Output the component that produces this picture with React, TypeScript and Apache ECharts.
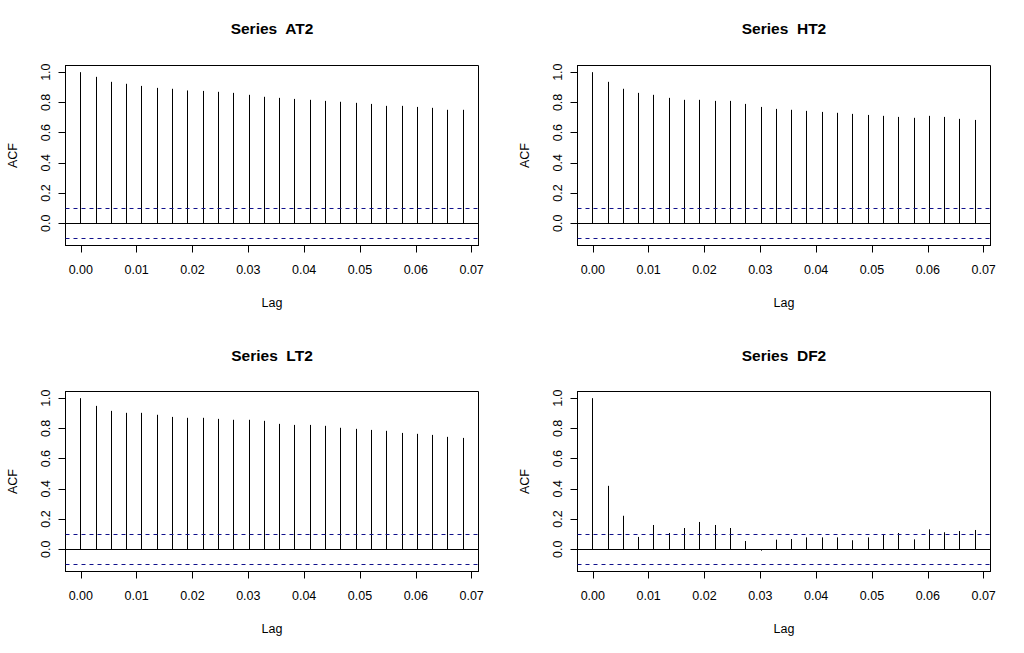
import React, { useEffect, useRef } from "react";
import * as echarts from "echarts";

const lags = [
  0, 0.00274, 0.00548, 0.00822, 0.01096, 0.0137, 0.01644, 0.01918, 0.02192,
  0.02466, 0.0274, 0.03014, 0.03288, 0.03562, 0.03836, 0.0411, 0.04384,
  0.04658, 0.04932, 0.05205, 0.05479, 0.05753, 0.06027, 0.06301, 0.06575,
  0.06849,
];

const acfAT2 = [
  1.0, 0.969, 0.936, 0.923, 0.909, 0.896, 0.89, 0.879, 0.876, 0.87, 0.863,
  0.85, 0.837, 0.83, 0.823, 0.817, 0.81, 0.804, 0.797, 0.79, 0.777, 0.777,
  0.77, 0.764, 0.751, 0.751,
];
const acfHT2 = [
  1.0, 0.936, 0.89, 0.863, 0.85, 0.83, 0.817, 0.817, 0.81, 0.81, 0.79, 0.77,
  0.757, 0.751, 0.744, 0.737, 0.731, 0.724, 0.717, 0.711, 0.704, 0.698, 0.711,
  0.704, 0.691, 0.684,
];
const acfLT2 = [
  1.0, 0.949, 0.916, 0.903, 0.903, 0.89, 0.876, 0.87, 0.87, 0.863, 0.857,
  0.857, 0.85, 0.83, 0.823, 0.823, 0.817, 0.804, 0.797, 0.79, 0.784, 0.77,
  0.764, 0.757, 0.744, 0.737,
];
const acfDF2 = [
  1.0, 0.42, 0.222, 0.082, 0.161, 0.108, 0.141, 0.181, 0.161, 0.141, 0.055,
  -0.009, 0.064, 0.068, 0.079, 0.079, 0.079, 0.06, 0.079, 0.099, 0.108, 0.066,
  0.132, 0.113, 0.121, 0.128,
];

const seriesNames = ["Series  AT2", "Series  HT2", "Series  LT2", "Series  DF2"];
const seriesValues = [acfAT2, acfHT2, acfLT2, acfDF2];

const xTicks = [0, 0.01, 0.02, 0.03, 0.04, 0.05, 0.06, 0.07];
const yTicks = [0, 0.2, 0.4, 0.6, 0.8, 1.0];
const ciLimit = 0.1026;
const xRange = [-0.00274, 0.07123];
const yRange = [-0.1467, 1.0441];

const FONT = '"Liberation Sans", Arial, sans-serif';
const CI_COLOR = "#12128c";

// plot boxes: left, top, width, height
const boxes = [
  [65.5, 65.5, 413, 180],
  [577.5, 65.5, 413, 180],
  [65.5, 391.5, 413, 180],
  [577.5, 391.5, 413, 180],
];

export default function App() {
  const ref = useRef<HTMLDivElement>(null);

  useEffect(() => {
    if (!ref.current) return;
    const chart = echarts.init(ref.current, null, { renderer: "svg" });

    const grid: any[] = [];
    const xAxis: any[] = [];
    const yAxis: any[] = [];
    const series: any[] = [];
    const graphic: any[] = [];

    boxes.forEach((b, i) => {
      grid.push({
        left: b[0],
        top: b[1],
        width: b[2],
        height: b[3],
        show: true,
        borderColor: "#000",
        borderWidth: 1,
        backgroundColor: "transparent",
        containLabel: false,
      });
      xAxis.push({
        type: "value",
        gridIndex: i,
        min: xRange[0],
        max: xRange[1],
        name: "Lag",
        nameLocation: "middle",
        nameGap: 51,
        nameTextStyle: { fontFamily: FONT, fontSize: 12.5, color: "#000" },
        axisLine: { show: true, onZero: false, lineStyle: { color: "#000", width: 1 } },
        axisTick: {
          show: true,
          length: 7,
          customValues: xTicks,
          lineStyle: { color: "#000", width: 1 },
        },
        axisLabel: {
          show: true,
          customValues: xTicks,
          margin: 18,
          fontFamily: FONT,
          fontSize: 12.5,
          color: "#000",
          formatter: (v: number) => v.toFixed(2),
        },
        splitLine: { show: false },
      });
      yAxis.push({
        type: "value",
        gridIndex: i,
        min: yRange[0],
        max: yRange[1],
        name: "ACF",
        nameLocation: "middle",
        nameGap: 46,
        nameRotate: 90,
        nameTextStyle: { fontFamily: FONT, fontSize: 12.5, color: "#000" },
        axisLine: { show: true, onZero: false, lineStyle: { color: "#000", width: 1 } },
        axisTick: {
          show: true,
          length: 7,
          customValues: yTicks,
          lineStyle: { color: "#000", width: 1 },
        },
        axisLabel: {
          show: true,
          customValues: yTicks,
          rotate: 90,
          margin: 13,
          fontFamily: FONT,
          fontSize: 12.5,
          color: "#000",
          formatter: (v: number) => v.toFixed(1),
        },
        splitLine: { show: false },
      });
      series.push({
        type: "custom",
        xAxisIndex: i,
        yAxisIndex: i,
        data: lags.map((l, k) => [l, seriesValues[i][k]]),
        renderItem: (params: any, api: any) => {
          const x = api.value(0);
          const y = api.value(1);
          const p0 = api.coord([x, 0]);
          const p1 = api.coord([x, y]);
          const px = Math.floor(p0[0]) + 0.5;
          return {
            type: "line",
            shape: { x1: px, y1: p0[1], x2: px, y2: p1[1] },
            style: { stroke: "#000", lineWidth: 1 },
          };
        },
        silent: true,
      });
      series.push({
        type: "line",
        xAxisIndex: i,
        yAxisIndex: i,
        data: [],
        silent: true,
        markLine: {
          silent: true,
          symbol: "none",
          label: { show: false },
          animation: false,
          data: [
            { yAxis: 0, lineStyle: { color: "#000", type: "solid", width: 1 } },
            { yAxis: ciLimit, lineStyle: { color: CI_COLOR, type: [4, 4], width: 1 } },
            { yAxis: -ciLimit, lineStyle: { color: CI_COLOR, type: [4, 4], width: 1 } },
          ],
        },
      });
      graphic.push({
        type: "text",
        x: b[0] + b[2] / 2,
        y: i < 2 ? 28 : 355,
        style: {
          text: seriesNames[i],
          fontFamily: FONT,
          fontSize: 15.5,
          fontWeight: "bold",
          fill: "#000",
          align: "center",
          verticalAlign: "middle",
        },
      });
    });

    chart.setOption({
      animation: false,
      backgroundColor: "#fff",
      grid,
      xAxis,
      yAxis,
      series,
      graphic,
    });

    return () => chart.dispose();
  }, []);

  return (
    <div
      ref={ref}
      style={{ position: "absolute", left: 0, top: 0, width: 1024, height: 653, background: "#fff" }}
    />
  );
}
